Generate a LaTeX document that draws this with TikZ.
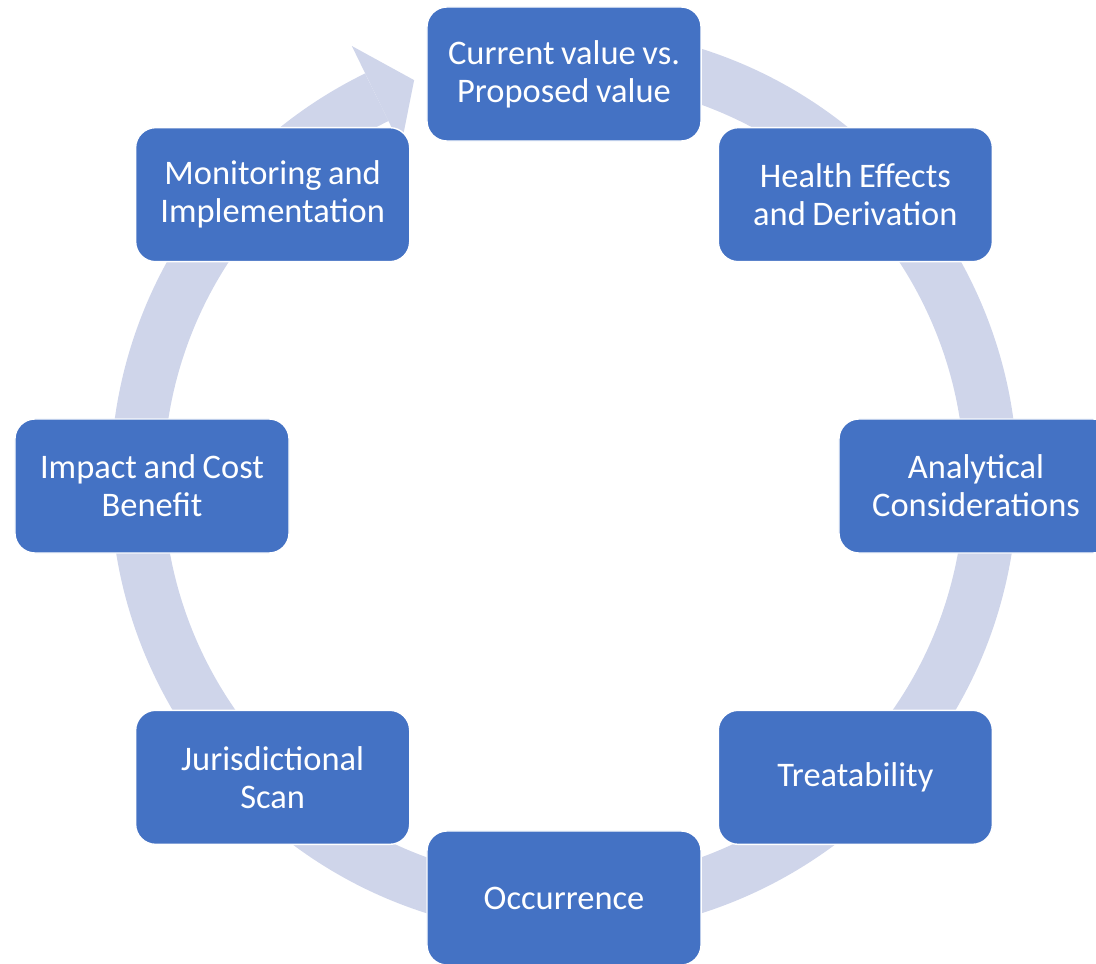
\documentclass[tikz,border=0pt]{standalone}
\usepackage{fontspec}
\setmainfont{Carlito}
\usetikzlibrary{calc}

\definecolor{stepblue}{HTML}{4472C4}
\definecolor{ringblue}{HTML}{CFD5EA}

\tikzset{
  stage/.style={draw=white, line width=1pt, fill=stepblue, rounded corners=0.5cm,
    minimum width=6.85cm, minimum height=3.35cm, inner sep=0pt,
    text width=6.6cm, align=center, text=white,
    font=\fontsize{24.5}{27}\selectfont,
    execute at begin node={\spaceskip=0.19em\relax}},
  ring/.style={ringblue, line width=1.325cm, line cap=butt}
}

\begin{document}
\begin{tikzpicture}[x=0.025cm, y=0.025cm]

\useasboundingbox (0,0) rectangle (1096,963);
\clip (0,0) rectangle (1096,963);
\coordinate (c) at (564,482);
\coordinate (o) at (564,477);

% circular arrow behind the boxes
\draw[ring, shift={(c)}] (80:427) arc[start angle=80, end angle=-244, radius=427];
\fill[ringblue, shift={(c)}] (116:372) -- (116:484) -- (110.5:428) -- cycle;

\foreach \a/\n/\t in {90/cur/{Current value vs.\\Proposed value},
                      45/health/{Health Effects\\and Derivation},
                      0/analytic/{Analytical\\Considerations},
                      -45/treat/{Treatability},
                      -90/occur/{Occurrence},
                      -135/juris/{Jurisdictional\\Scan},
                      180/impact/{Impact and Cost\\Benefit},
                      135/monitor/{Monitoring and\\Implementation}}
  {\node[stage] (\n) at ($(o)+(\a:412)$) {\t};}

\end{tikzpicture}
\end{document}
